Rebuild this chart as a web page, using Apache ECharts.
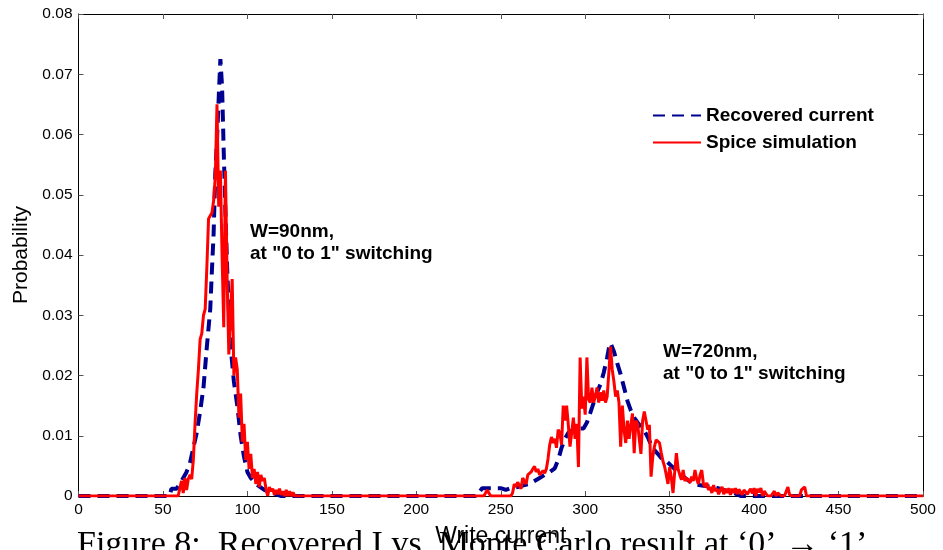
<!DOCTYPE html>
<html>
<head>
<meta charset="utf-8">
<script src="https://cdn.jsdelivr.net/npm/echarts@6/dist/echarts.min.js"></script>
<style>
  html, body { margin: 0; padding: 0; background: #fff; overflow: hidden; }
  #chart { width: 943px; height: 550px; }
</style>
</head>
<body>
<div id="chart"></div>
<script>
// Recovered write-current distribution (sampled curve)
const recoveredX = [0, 54, 55, 58, 60, 62, 64, 66, 68, 70, 72, 74, 76, 78, 79, 80, 81, 82, 83, 84, 85, 86, 87, 88, 89, 90, 92, 94, 96, 98, 100, 102, 105, 110, 115, 120,
  235, 237, 239, 244, 246, 250, 253, 256, 260, 264, 267, 270, 273, 276, 279, 282, 284, 286, 288, 290, 293, 296, 299, 301, 303, 305, 307, 309, 311, 313, 314, 315, 316, 317, 319, 321, 323, 325, 327, 329, 331, 333, 335, 337, 339, 341, 343, 345, 348, 351, 354, 357, 360, 364, 370, 376, 382, 388, 392, 500];
const recoveredY = [0, 0, 0.0012, 0.0012, 0.002, 0.003, 0.004, 0.0055, 0.008, 0.0105, 0.014, 0.018, 0.0248, 0.031, 0.0375, 0.0436, 0.0536, 0.059, 0.066, 0.0725, 0.068, 0.057, 0.047, 0.038, 0.031, 0.025, 0.019, 0.015, 0.010, 0.0065, 0.004, 0.003, 0.002, 0.001, 0.0005, 0,
  0, 0.0005, 0.0013, 0.0013, 0.0013, 0.0013, 0.001, 0.0013, 0.0015, 0.0018, 0.002, 0.0025, 0.003, 0.0035, 0.004, 0.0046, 0.006, 0.008, 0.0095, 0.0105, 0.011, 0.0112, 0.0112, 0.0122, 0.0138, 0.0155, 0.0172, 0.0185, 0.0205, 0.023, 0.0245, 0.0254, 0.0254, 0.024, 0.022, 0.0202, 0.018, 0.0158, 0.0142, 0.013, 0.0122, 0.0115, 0.0108, 0.0098, 0.0085, 0.0076, 0.007, 0.0063, 0.0058, 0.005, 0.0042, 0.0035, 0.0028, 0.002, 0.0017, 0.0015, 0.001, 0.0005, 0, 0];

// Spice simulation histogram, 1-unit bins (W=90nm group)
const spiceLowStart = 55;
const spiceLow = [0, 0, 0, 0, 0, 0, 0.0025, 0.0005, 0.003, 0.001, 0.0028, 0.0035, 0.0028, 0.006, 0.012, 0.017, 0.021, 0.026, 0.027, 0.030,
  0.031, 0.038, 0.046, 0.046, 0.047, 0.049, 0.053, 0.065, 0.048, 0.054, 0.040, 0.028, 0.054, 0.036, 0.0235, 0.030, 0.036, 0.020, 0.023, 0.021,
  0.013, 0.017, 0.009, 0.012, 0.006, 0.009, 0.0045, 0.007, 0.003, 0.0045, 0.002, 0.004, 0.0015, 0.0035, 0.0025, 0.003, 0.0012, 0, 0.0015, 0.0008,
  0.0012, 0.0002, 0.001, 0.0003, 0.0012, 0.0002, 0.0008, 0, 0.001, 0, 0.0008, 0, 0.0006, 0, 0];

// Spice simulation histogram, 1-unit bins (W=720nm group)
const spiceHighStart = 238;
const spiceHigh = [0, 0, 0, 0, 0.001, 0.0005, 0, 0, 0, 0, 0, 0, 0, 0, 0, 0, 0, 0, 0, 0.0005,
  0.002, 0.0015, 0.0023, 0.0018, 0.0012, 0.003, 0.0028, 0.002, 0.0035, 0.0032, 0.004, 0.0045, 0.0049, 0.004, 0.0045, 0.0035, 0.0033, 0.0042, 0.0038, 0.0045,
  0.0062, 0.0085, 0.0098, 0.0088, 0.0095, 0.0080, 0.011, 0.0105, 0.0085, 0.015, 0.0125, 0.015, 0.0118, 0.0082, 0.0105, 0.013, 0.0095, 0.012, 0.0048, 0.023,
  0.0145, 0.0165, 0.0135, 0.023, 0.016, 0.0155, 0.018, 0.0155, 0.0165, 0.018, 0.0155, 0.0172, 0.0158, 0.0175, 0.0155, 0.0165, 0.0205, 0.0248, 0.021, 0.019,
  0.0165, 0.0175, 0.0155, 0.0082, 0.015, 0.011, 0.0088, 0.0125, 0.0095, 0.0118, 0.0137, 0.0071, 0.0125, 0.012, 0.0095, 0.007, 0.0125, 0.014, 0.0125, 0.011,
  0.0118, 0.0032, 0.0065, 0.0082, 0.0093, 0.009, 0.0088, 0.0072, 0.0058, 0.0049, 0.0035, 0.002, 0.0048, 0.003, 0.0005, 0.004, 0.0071, 0.0045, 0.0035, 0.0027,
  0.0043, 0.0025, 0.003, 0.0028, 0.0022, 0.0032, 0.0025, 0.0043, 0.0028, 0.002, 0.0035, 0.0043, 0.002, 0.0015, 0.0022, 0.001, 0.0015, 0.0005, 0.0018, 0.0008,
  0.0012, 0.0003, 0.001, 0.0015, 0.0003, 0.0012, 0.0005, 0.0013, 0.0002, 0.0012, 0.0005, 0.0013, 0.0003, 0.0011, 0.0012, 0.0002, 0.001, 0.0013, 0.0003, 0.0008,
  0.0012, 0.0004, 0.0013, 0, 0.0012, 0.0006, 0.0013, 0, 0.0008, 0.0005, 0, 0, 0, 0, 0.0008, 0, 0.0005, 0.0002, 0, 0,
  0, 0, 0.0015, 0.0002, 0, 0, 0, 0, 0, 0, 0.001, 0.0008, 0.0015, 0, 0];

const xTicks = [0, 50, 100, 150, 200, 250, 300, 350, 400, 450, 500];
const yTicks = ['0', '0.01', '0.02', '0.03', '0.04', '0.05', '0.06', '0.07', '0.08'];

const annotations = [
  ['W=90nm,', 'at "0 to 1" switching'],
  ['W=720nm,', 'at "0 to 1" switching']
];
const captionText = 'Figure 8:  Recovered I vs. Monte Carlo result at \u20180\u2019 \u2192 \u20181\u2019';

// assemble [x, y] pairs
const recoveredData = recoveredX.map((x, i) => [x, recoveredY[i]]);
const spiceData = [[0, 0]];
spiceLow.forEach((v, i) => spiceData.push([spiceLowStart + i, v]));
spiceHigh.forEach((v, i) => spiceData.push([spiceHighStart + i, v]));
spiceData.push([500, 0]);

const FONT = 'Liberation Sans, Arial, sans-serif';
const chart = echarts.init(document.getElementById('chart'), null, { renderer: 'canvas' });

const baseAxis = {
  axisLine: { show: true, onZero: false, lineStyle: { color: '#000', width: 1 } },
  axisTick: { show: true, inside: true, length: 5, lineStyle: { color: '#555' } },
  splitLine: { show: false }
};

chart.setOption({
  animation: false,
  backgroundColor: '#fff',
  grid: { left: 78.5, right: 20, top: 14, bottom: 54, containLabel: false, outerBoundsMode: 'none' },
  legend: {
    orient: 'vertical',
    left: 647,
    top: 101,
    itemWidth: 48,
    itemHeight: 19,
    itemGap: 8,
    data: ['Recovered current', 'Spice simulation'],
    itemStyle: { opacity: 0, borderWidth: 0 },
    textStyle: { fontFamily: FONT, fontWeight: 'bold', fontSize: 19, color: '#000' }
  },
  xAxis: [{
    ...baseAxis,
    type: 'value', min: 0, max: 500, interval: 50,
    name: 'Write current', nameLocation: 'middle', nameGap: 29,
    nameTextStyle: { fontFamily: FONT, fontSize: 23, color: '#000' },
    axisLabel: { fontFamily: FONT, fontSize: 15.5, color: '#000', margin: 6,
      formatter: (v) => String(xTicks[xTicks.indexOf(v)]) }
  }, {
    ...baseAxis,
    type: 'value', min: 0, max: 500, interval: 50, position: 'top',
    axisLabel: { show: false }
  }],
  yAxis: [{
    ...baseAxis,
    type: 'value', min: 0, max: 0.08, interval: 0.01,
    name: 'Probability', nameLocation: 'middle', nameGap: 46,
    nameTextStyle: { fontFamily: FONT, fontSize: 21, color: '#000' },
    axisLabel: { fontFamily: FONT, fontSize: 15.5, color: '#000', margin: 6,
      formatter: (v) => yTicks[Math.round(v * 100)] }
  }, {
    ...baseAxis,
    type: 'value', min: 0, max: 0.08, interval: 0.01, position: 'right',
    axisLabel: { show: false }
  }],
  graphic: [
    { type: 'text', left: 250, top: 221, style: { text: annotations[0].join('\n'), font: 'bold 19px ' + FONT, fill: '#000', lineHeight: 22 } },
    { type: 'text', left: 663, top: 341, style: { text: annotations[1].join('\n'), font: 'bold 19px ' + FONT, fill: '#000', lineHeight: 22 } },
    { type: 'text', left: 77, top: 528, style: { text: captionText, font: '34px "Liberation Serif", "DejaVu Serif", serif', fill: '#000' } }
  ],
  series: [{
    name: 'Recovered current',
    type: 'line',
    data: recoveredData,
    symbol: 'none',
    lineStyle: { color: '#000090', width: 4, type: [12, 7] },
    itemStyle: { color: '#000090' },
    z: 2
  }, {
    name: 'Spice simulation',
    type: 'line',
    data: spiceData,
    symbol: 'none',
    lineStyle: { color: '#ff0000', width: 3 },
    itemStyle: { color: '#ff0000' },
    z: 3
  }]
});
</script>
</body>
</html>
